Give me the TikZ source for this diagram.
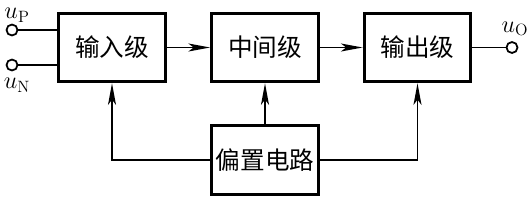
\documentclass[tikz,border=0pt]{standalone}
\usepackage{fontspec}
\newfontfamily\cjk{Noto Sans CJK SC}
\usetikzlibrary{arrows.meta}

\tikzset{
  stage/.style={draw, line width=2.7pt, minimum width=3.2cm, minimum height=2.05cm,
    inner sep=0pt, font=\cjk\fontsize{21}{24}\selectfont},
  link/.style={line width=1.4pt},
  feed/.style={link, -{Stealth[length=6.5mm, width=2.4mm, inset=1.6mm]}},
  port/.style={circle, draw, line width=1.5pt, fill=white, minimum size=3.3mm, inner sep=0pt},
  sig/.style={font=\fontsize{20}{24}\selectfont, inner sep=0pt}
}

\begin{document}
\begin{tikzpicture}[x=0.3mm, y=-0.3mm]
  \useasboundingbox (0,0) rectangle (527,200);

  % stages
  \node[stage] (in)   at (112,47.5) {输入级};
  \node[stage] (mid)  at (265,47.5) {中间级};
  \node[stage] (out)  at (417.5,47.5) {输出级};
  \node[stage] (bias) at (265,160) {偏置电路};

  % signal path
  \draw[feed] (in) -- (mid);
  \draw[feed] (mid) -- (out);

  % bias lines
  \draw[feed] (bias.west) -| (in.south);
  \draw[feed] (bias.north) -- (mid.south);
  \draw[feed] (bias.east) -| (out.south);

  % terminals
  \node[port] (uP) at (12,30) {};
  \node[port] (uN) at (12,65) {};
  \node[port] (uO) at (512,47.5) {};
  \draw[link] (uP) -- (uP -| in.west);
  \draw[link] (uN) -- (uN -| in.west);
  \draw[link] (out.east) -- (uO);

  \node[sig] (lP) at (17,15) {$u_{\mathrm{P}}$};
  \node[sig] (lN) at (17,85) {$u_{\mathrm{N}}$};
  \node[sig] (lO) at (515,29) {$u_{\mathrm{O}}$};
\end{tikzpicture}
\end{document}
